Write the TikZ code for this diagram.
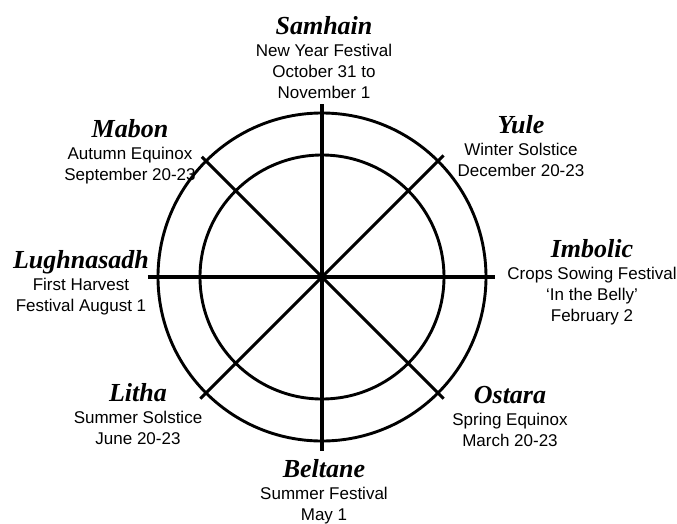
\documentclass[tikz,border=0pt]{standalone}
\usepackage{fontspec}
\setmainfont{Liberation Sans}
\newfontfamily\festfont{Liberation Serif}
\usepackage{tikz}
\usetikzlibrary{positioning}

\begin{document}
\begin{tikzpicture}[
  x=1pt, y=1pt,
  fest/.style={font=\festfont\bfseries\itshape\fontsize{26}{28}\selectfont,
               inner sep=0pt},
  info/.style={font=\fontsize{17}{21}\selectfont, align=center, inner sep=0pt},
  ring/.style={draw, line width=2.9pt},
  spoke/.style={line width=3.1pt}
]
\useasboundingbox (-322,-246) rectangle (355,277);

% Wheel
\coordinate (hub) at (0,0);
\draw[ring] (hub) circle[radius=164];
\draw[ring] (hub) circle[radius=122];
\draw[spoke] (90:173) -- (270:174);
\draw[spoke] (180:174) -- (0:173);
\draw[spoke] (135:170) -- (315:172);
\draw[spoke] (45:172) -- (225:172);

% Samhain (top)
\node[fest, anchor=base] (sam) at (2,243) {Samhain};
\node[info, below=10pt of sam.base] (samtxt)
  {New Year Festival\\October 31 to\\November 1};

% Yule
\node[fest, anchor=base] (yule) at (199,144) {Yule};
\node[info, below=10pt of yule.base] (yuletxt)
  {Winter Solstice\\December 20-23};

% Imbolic
\node[fest, anchor=base] (imb) at (270,20) {Imbolic};
\node[info, below=10pt of imb.base] (imbtxt)
  {Crops Sowing Festival\\‘In the Belly’\\February 2};

% Ostara
\node[fest, anchor=base] (ost) at (188,-126) {Ostara};
\node[info, below=10pt of ost.base] (osttxt)
  {Spring Equinox\\March 20-23};

% Beltane (bottom)
\node[fest, anchor=base] (bel) at (2,-200) {Beltane};
\node[info, below=10pt of bel.base] (beltxt)
  {Summer Festival\\May 1};

% Litha
\node[fest, anchor=base] (lit) at (-184,-124) {Litha};
\node[info, below=10pt of lit.base] (littxt)
  {Summer Solstice\\June 20-23};

% Lughnasadh
\node[fest, anchor=base] (lug) at (-241,9) {Lughnasadh};
\node[info, below=10pt of lug.base] (lugtxt)
  {First Harvest\\Festival August 1};

% Mabon
\node[fest, anchor=base] (mab) at (-192,140) {Mabon};
\node[info, below=10pt of mab.base] (mabtxt)
  {Autumn Equinox\\September 20-23};

\end{tikzpicture}
\end{document}
